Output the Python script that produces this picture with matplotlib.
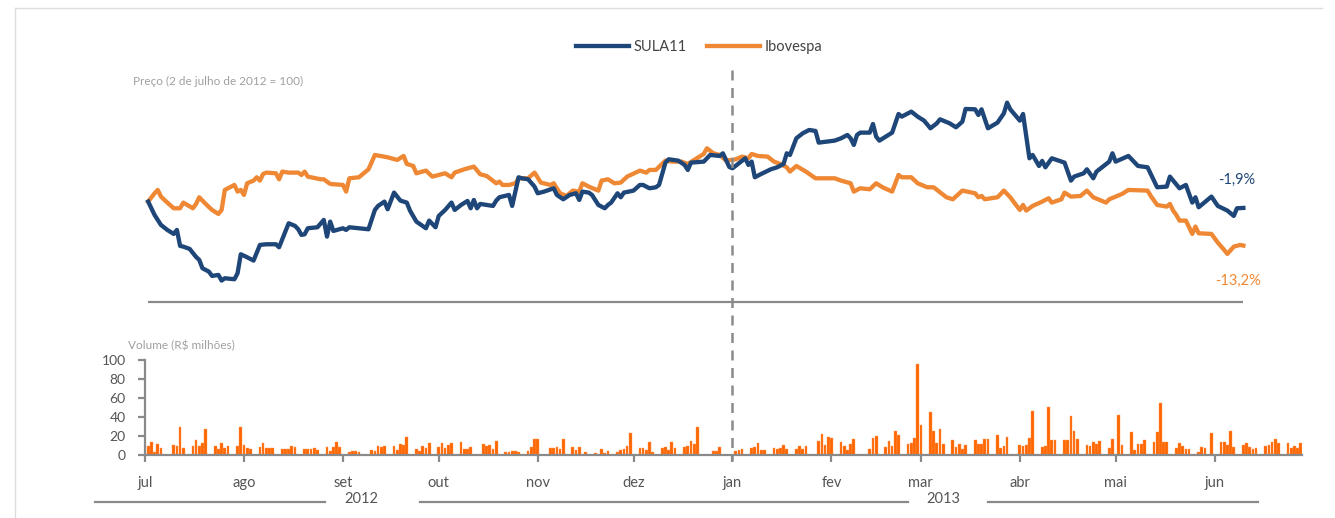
import pandas as pd
import matplotlib
matplotlib.use("Agg")
import matplotlib.pyplot as plt
import matplotlib.dates as mdates
import matplotlib.transforms as mtransforms
from matplotlib.lines import Line2D

plt.rcParams["font.family"] = ["Lato", "DejaVu Sans"]

# Preço (2 de julho de 2012 = 100)
sula11 = [
    ("2012-07-02", 100.0), ("2012-07-04", 96.0), ("2012-07-06", 93.0), ("2012-07-08", 91.5),
    ("2012-07-10", 90.3), ("2012-07-11", 91.5), ("2012-07-12", 86.7), ("2012-07-13", 86.5),
    ("2012-07-15", 85.8), ("2012-07-17", 83.4), ("2012-07-18", 82.5), ("2012-07-19", 80.0),
    ("2012-07-21", 79.0), ("2012-07-22", 77.7), ("2012-07-24", 78.0), ("2012-07-25", 76.3),
    ("2012-07-26", 77.0), ("2012-07-29", 76.7), ("2012-07-30", 78.5), ("2012-07-31", 84.2),
    ("2012-08-02", 83.3), ("2012-08-04", 82.3), ("2012-08-06", 87.0), ("2012-08-08", 87.2),
    ("2012-08-11", 87.2), ("2012-08-12", 86.3), ("2012-08-15", 93.5), ("2012-08-17", 92.7),
    ("2012-08-18", 91.7), ("2012-08-19", 90.0), ("2012-08-20", 90.2), ("2012-08-21", 92.0),
    ("2012-08-24", 92.3), ("2012-08-26", 94.5), ("2012-08-27", 89.5), ("2012-08-28", 94.0),
    ("2012-08-29", 91.2), ("2012-09-01", 92.0), ("2012-09-02", 91.5), ("2012-09-03", 92.3),
    ("2012-09-09", 91.7), ("2012-09-11", 97.5), ("2012-09-12", 98.7), ("2012-09-14", 100.0),
    ("2012-09-15", 97.7), ("2012-09-17", 102.7), ("2012-09-19", 100.3), ("2012-09-21", 99.7),
    ("2012-09-22", 97.3), ("2012-09-24", 94.0), ("2012-09-27", 92.0), ("2012-09-28", 94.3),
    ("2012-09-30", 92.3), ("2012-10-01", 95.7), ("2012-10-03", 97.5), ("2012-10-05", 99.7),
    ("2012-10-06", 97.5), ("2012-10-08", 99.0), ("2012-10-10", 100.2), ("2012-10-11", 98.0),
    ("2012-10-12", 100.5), ("2012-10-13", 98.0), ("2012-10-14", 99.3), ("2012-10-18", 98.7),
    ("2012-10-19", 100.3), ("2012-10-20", 101.3), ("2012-10-23", 102.0), ("2012-10-24", 98.7),
    ("2012-10-26", 107.3), ("2012-10-27", 107.0), ("2012-10-29", 106.7), ("2012-10-31", 104.5),
    ("2012-11-01", 102.5), ("2012-11-03", 103.0), ("2012-11-06", 104.0), ("2012-11-07", 102.0),
    ("2012-11-09", 100.7), ("2012-11-11", 102.0), ("2012-11-13", 102.5), ("2012-11-14", 100.5),
    ("2012-11-15", 103.0), ("2012-11-17", 102.7), ("2012-11-18", 102.0), ("2012-11-20", 99.0),
    ("2012-11-22", 98.0), ("2012-11-23", 99.0), ("2012-11-24", 99.7), ("2012-11-26", 102.5),
    ("2012-11-27", 101.3), ("2012-11-28", 102.7), ("2012-12-01", 103.3), ("2012-12-03", 105.0),
    ("2012-12-04", 105.0), ("2012-12-06", 104.0), ("2012-12-08", 104.3), ("2012-12-09", 105.0),
    ("2012-12-11", 111.7), ("2012-12-12", 112.7), ("2012-12-15", 112.3), ("2012-12-17", 111.0),
    ("2012-12-18", 109.5), ("2012-12-19", 111.7), ("2012-12-23", 112.0), ("2012-12-25", 114.0),
    ("2012-12-28", 113.7), ("2012-12-29", 114.5), ("2012-12-31", 110.4), ("2013-01-01", 110.0),
    ("2013-01-03", 111.5), ("2013-01-05", 113.0), ("2013-01-06", 111.0), ("2013-01-07", 112.0),
    ("2013-01-08", 107.3), ("2013-01-10", 108.3), ("2013-01-13", 109.7), ("2013-01-15", 110.3),
    ("2013-01-17", 111.3), ("2013-01-18", 114.5), ("2013-01-19", 114.0), ("2013-01-21", 119.0),
    ("2013-01-23", 120.5), ("2013-01-25", 121.5), ("2013-01-27", 121.2), ("2013-01-28", 117.7),
    ("2013-02-02", 118.3), ("2013-02-04", 119.0), ("2013-02-06", 120.0), ("2013-02-07", 119.0),
    ("2013-02-08", 117.0), ("2013-02-09", 120.0), ("2013-02-10", 120.7), ("2013-02-13", 120.7),
    ("2013-02-14", 123.3), ("2013-02-15", 119.5), ("2013-02-16", 118.3), ("2013-02-20", 120.7),
    ("2013-02-21", 123.5), ("2013-02-22", 126.3), ("2013-02-23", 125.5), ("2013-02-26", 127.0),
    ("2013-02-28", 125.5), ("2013-03-02", 124.3), ("2013-03-04", 122.0), ("2013-03-06", 123.5),
    ("2013-03-07", 124.7), ("2013-03-10", 123.5), ("2013-03-12", 122.3), ("2013-03-14", 124.0),
    ("2013-03-15", 127.8), ("2013-03-18", 127.7), ("2013-03-19", 126.0), ("2013-03-20", 127.7),
    ("2013-03-22", 122.0), ("2013-03-25", 123.7), ("2013-03-27", 126.5), ("2013-03-28", 129.7),
    ("2013-03-29", 127.7), ("2013-04-01", 124.3), ("2013-04-02", 126.3), ("2013-04-04", 113.0),
    ("2013-04-05", 114.0), ("2013-04-07", 110.7), ("2013-04-08", 112.2), ("2013-04-09", 110.3),
    ("2013-04-11", 113.0), ("2013-04-15", 111.7), ("2013-04-17", 106.3), ("2013-04-18", 107.5),
    ("2013-04-21", 108.5), ("2013-04-22", 109.7), ("2013-04-24", 107.0), ("2013-04-25", 109.0),
    ("2013-04-29", 112.0), ("2013-04-30", 114.5), ("2013-05-01", 112.0), ("2013-05-05", 113.7),
    ("2013-05-08", 110.7), ("2013-05-11", 110.3), ("2013-05-14", 104.3), ("2013-05-17", 104.5),
    ("2013-05-18", 107.5), ("2013-05-21", 104.0), ("2013-05-23", 105.0), ("2013-05-25", 99.7),
    ("2013-05-26", 101.3), ("2013-05-27", 98.3), ("2013-05-31", 101.5), ("2013-06-02", 98.7),
    ("2013-06-05", 97.3), ("2013-06-07", 95.7), ("2013-06-08", 98.0), ("2013-06-10", 98.1),
]

ibovespa = [
    ("2012-07-02", 100.0), ("2012-07-04", 102.5), ("2012-07-05", 103.5), ("2012-07-06", 101.5),
    ("2012-07-08", 99.7), ("2012-07-10", 98.0), ("2012-07-12", 98.0), ("2012-07-13", 99.7),
    ("2012-07-16", 98.0), ("2012-07-17", 99.3), ("2012-07-18", 101.3), ("2012-07-20", 99.3),
    ("2012-07-22", 97.5), ("2012-07-24", 96.3), ("2012-07-25", 97.5), ("2012-07-26", 103.5),
    ("2012-07-29", 105.0), ("2012-07-30", 103.0), ("2012-07-31", 103.5), ("2012-08-01", 102.0),
    ("2012-08-02", 105.5), ("2012-08-04", 106.3), ("2012-08-05", 107.3), ("2012-08-06", 106.3),
    ("2012-08-07", 108.3), ("2012-08-08", 108.7), ("2012-08-11", 108.5), ("2012-08-12", 106.7),
    ("2012-08-13", 109.0), ("2012-08-15", 108.7), ("2012-08-18", 108.7), ("2012-08-19", 108.0),
    ("2012-08-20", 109.0), ("2012-08-21", 107.5), ("2012-08-25", 106.7), ("2012-08-26", 106.7),
    ("2012-08-28", 105.3), ("2012-09-01", 105.0), ("2012-09-02", 103.0), ("2012-09-03", 107.0),
    ("2012-09-06", 107.3), ("2012-09-09", 109.7), ("2012-09-11", 114.0), ("2012-09-15", 113.3),
    ("2012-09-18", 112.5), ("2012-09-20", 113.7), ("2012-09-21", 111.3), ("2012-09-23", 110.7),
    ("2012-09-24", 108.5), ("2012-09-27", 109.3), ("2012-09-29", 107.5), ("2012-10-01", 108.0),
    ("2012-10-03", 108.5), ("2012-10-05", 107.3), ("2012-10-06", 108.7), ("2012-10-09", 109.7),
    ("2012-10-12", 110.5), ("2012-10-14", 108.2), ("2012-10-16", 107.7), ("2012-10-19", 105.5),
    ("2012-10-20", 106.0), ("2012-10-21", 105.0), ("2012-10-23", 105.0), ("2012-10-25", 105.5),
    ("2012-10-26", 107.0), ("2012-10-29", 107.0), ("2012-10-31", 108.7), ("2012-11-02", 105.7),
    ("2012-11-05", 105.0), ("2012-11-06", 105.5), ("2012-11-08", 102.5), ("2012-11-10", 101.7),
    ("2012-11-12", 103.3), ("2012-11-14", 103.0), ("2012-11-15", 105.5), ("2012-11-17", 104.5),
    ("2012-11-20", 103.3), ("2012-11-21", 106.3), ("2012-11-23", 106.7), ("2012-11-25", 105.5),
    ("2012-11-27", 105.7), ("2012-11-29", 107.5), ("2012-12-03", 109.3), ("2012-12-05", 108.7),
    ("2012-12-06", 109.5), ("2012-12-08", 109.5), ("2012-12-11", 112.3), ("2012-12-13", 112.0),
    ("2012-12-16", 112.0), ("2012-12-18", 111.3), ("2012-12-20", 112.5), ("2012-12-23", 114.3),
    ("2012-12-24", 116.0), ("2012-12-26", 114.5), ("2012-12-28", 114.0), ("2012-12-30", 112.3),
    ("2013-01-02", 112.7), ("2013-01-04", 113.5), ("2013-01-06", 113.0), ("2013-01-07", 114.3),
    ("2013-01-09", 113.7), ("2013-01-12", 113.5), ("2013-01-14", 112.0), ("2013-01-16", 111.3),
    ("2013-01-18", 110.3), ("2013-01-19", 109.0), ("2013-01-21", 110.7), ("2013-01-24", 109.0),
    ("2013-01-27", 107.0), ("2013-02-02", 107.0), ("2013-02-04", 106.3), ("2013-02-07", 105.5),
    ("2013-02-08", 103.0), ("2013-02-10", 104.0), ("2013-02-13", 103.7), ("2013-02-15", 105.5),
    ("2013-02-17", 104.3), ("2013-02-20", 103.0), ("2013-02-22", 108.0), ("2013-02-23", 107.3),
    ("2013-02-26", 107.3), ("2013-02-28", 105.5), ("2013-03-03", 104.3), ("2013-03-05", 104.3),
    ("2013-03-09", 101.3), ("2013-03-11", 100.7), ("2013-03-14", 103.3), ("2013-03-18", 102.5),
    ("2013-03-19", 101.3), ("2013-03-20", 101.7), ("2013-03-21", 100.7), ("2013-03-25", 101.3),
    ("2013-03-27", 103.3), ("2013-03-29", 101.3), ("2013-03-30", 100.0), ("2013-04-01", 97.5),
    ("2013-04-02", 99.0), ("2013-04-03", 97.3), ("2013-04-05", 98.7), ("2013-04-08", 100.0),
    ("2013-04-10", 101.0), ("2013-04-11", 99.7), ("2013-04-14", 100.7), ("2013-04-15", 102.7),
    ("2013-04-17", 101.5), ("2013-04-20", 101.7), ("2013-04-22", 103.3), ("2013-04-24", 101.3),
    ("2013-04-28", 99.7), ("2013-04-29", 100.7), ("2013-05-03", 102.3), ("2013-05-05", 103.5),
    ("2013-05-11", 103.3), ("2013-05-12", 101.7), ("2013-05-14", 99.0), ("2013-05-17", 98.5),
    ("2013-05-18", 99.3), ("2013-05-19", 97.3), ("2013-05-20", 96.0), ("2013-05-21", 94.3),
    ("2013-05-23", 94.3), ("2013-05-25", 90.3), ("2013-05-26", 92.5), ("2013-05-27", 90.5),
    ("2013-05-31", 90.3), ("2013-06-02", 87.7), ("2013-06-04", 85.5), ("2013-06-05", 84.3),
    ("2013-06-07", 86.5), ("2013-06-09", 87.0), ("2013-06-10", 86.8),
]

# Volume diário (R$ milhões), dias úteis de 2/jul/2012 a 28/jun/2013 (0 = feriado)
volume = [
    10, 14, 3, 12, 7,   0, 11, 10, 29, 7,   9, 16, 10, 13, 27,   9, 6, 13, 7, 10,
    9, 29, 11, 7, 6,   8, 13, 7, 7, 7,   6, 6, 6, 10, 8,   6, 6, 6, 7, 5,
    8, 4, 8, 14, 8,   3, 4, 4, 3, 0,   5, 4, 10, 8, 9,   9, 5, 12, 11, 19,
    6, 4, 9, 7, 13,   8, 13, 7, 11, 13,   14, 6, 6, 8, 0,   12, 9, 11, 6, 15,
    3, 3, 4, 4, 3,   4, 8, 17, 17, 0,   7, 7, 8, 6, 17,   8, 5, 8, 0, 3,
    2, 0, 6, 2, 4,   3, 5, 6, 10, 23,   7, 7, 5, 14, 3,   7, 8, 5, 14, 7,
    8, 10, 15, 12, 29,   0, 0, 4, 4, 8,   0, 0, 4, 5, 6,   7, 8, 13, 5, 5,
    7, 6, 7, 11, 6,   6, 9, 6, 10, 0,   15, 22, 11, 19, 18,   14, 9, 5, 12, 17,
    0, 0, 6, 18, 20,   8, 15, 9, 25, 21,   12, 13, 18, 96, 32,   45, 25, 13, 27, 12,
    16, 8, 12, 6, 11,   16, 12, 12, 17, 17,   21, 7, 10, 19, 0,   11, 10, 11, 18, 46,
    8, 10, 51, 16, 16,   16, 16, 41, 25, 17,   11, 10, 14, 12, 15,   7, 17, 0, 42, 11,
    24, 5, 12, 12, 16,   14, 24, 55, 14, 14,   7, 13, 10, 6, 6,   3, 8, 7, 0, 23,
    14, 14, 11, 25, 8,   11, 13, 8, 6, 7,   10, 11, 14, 17, 13,   13, 7, 9, 7, 13,
]

month_starts = ["2012-07-01", "2012-08-01", "2012-09-01", "2012-10-01", "2012-11-01", "2012-12-01",
                "2013-01-01", "2013-02-01", "2013-03-01", "2013-04-01", "2013-05-01", "2013-06-01"]
month_labels = ["jul", "ago", "set", "out", "nov", "dez", "jan", "fev", "mar", "abr", "mai", "jun"]
end_labels = ["-1,9%", "-13,2%"]

blue = "#1f4678"
orange = "#ef8834"
bar_color = "#ff6600"
grey = "#8a8a8a"

sula_d = pd.to_datetime([d for d, v in sula11])
sula_v = [v for d, v in sula11]
ibov_d = pd.to_datetime([d for d, v in ibovespa])
ibov_v = [v for d, v in ibovespa]
vol_d = pd.bdate_range("2012-07-02", "2013-06-28")
ticks = pd.to_datetime(month_starts)

xmin = pd.Timestamp("2012-07-01")
xmax = pd.Timestamp("2013-06-28 12:00")

fig = plt.figure(figsize=(13.35, 5.18), dpi=100)
ax = fig.add_axes([0.1086, 0.4178, 0.8670, 0.4471])
axv = fig.add_axes([0.1086, 0.1216, 0.8670, 0.1834])

# --- preço ---
l1, = ax.plot(sula_d, sula_v, color=blue, lw=3.1, solid_joinstyle="round", label="SULA11", zorder=3)
l2, = ax.plot(ibov_d, ibov_v, color=orange, lw=3.1, solid_joinstyle="round", label="Ibovespa", zorder=2)
ax.hlines(70, sula_d[0], sula_d[-1], color=grey, lw=1.6, clip_on=False)
ax.set_xlim(xmin, xmax)
ax.set_ylim(70, 139.5)
ax.axis("off")

ax.annotate(end_labels[0], (sula_d[-1], sula_v[-1]), xytext=(-7, 28), textcoords="offset pixels",
            ha="center", va="center", color=blue, fontsize=10.5)
ax.annotate(end_labels[1], (ibov_d[-1], ibov_v[-1]), xytext=(-5, -35), textcoords="offset pixels",
            ha="center", va="center", color=orange, fontsize=10.5)

fig.text(133 / 1335, 1 - 81 / 518, "Preço (2 de julho de 2012 = 100)", color="#a0a0a0",
         fontsize=8.5, ha="left", va="center")

fig.legend(handles=[l1, l2], loc="center", bbox_to_anchor=(0.524, 1 - 47 / 518), ncol=2,
           frameon=False, fontsize=10.5, handlelength=3.6, handletextpad=0.35,
           columnspacing=1.4, labelcolor="#444444")

# --- volume ---
axv.bar(vol_d, volume, width=0.85, color=bar_color, edgecolor="#ff9a5a", linewidth=0.3, zorder=2)
axv.set_xlim(xmin, xmax)
axv.set_ylim(0, 100)
axv.set_yticks(range(0, 101, 20))
axv.set_xticks(ticks)
axv.set_xticklabels(month_labels)
for s in ["top", "right"]:
    axv.spines[s].set_visible(False)
for s in ["left", "bottom"]:
    axv.spines[s].set_color(grey)
    axv.spines[s].set_linewidth(1.6)
axv.tick_params(axis="y", colors=grey, labelcolor="#555555", labelsize=10, length=5, width=1.6, pad=9)
axv.tick_params(axis="x", colors=grey, labelcolor="#555555", labelsize=10.5, length=5, width=1.6, pad=10)
fig.text(128 / 1335, 1 - 346 / 518, "Volume (R$ milhões)", color="#a0a0a0",
         fontsize=8.5, ha="left", va="center")

# linha tracejada da virada do ano
trans = mtransforms.blended_transform_factory(ax.transData, fig.transFigure)
jan = mdates.date2num(pd.Timestamp("2013-01-01"))
fig.add_artist(Line2D([jan, jan], [1 - 70 / 518, 1 - 461 / 518], transform=trans,
                      color=grey, lw=1.8, ls=(0, (4, 3))))

# anos
fig.text(361 / 1335, 1 - 499 / 518, "2012", color="#555555", fontsize=10.5, ha="center", va="center")
fig.text(943 / 1335, 1 - 499 / 518, "2013", color="#555555", fontsize=10.5, ha="center", va="center")
yl = 1 - 502 / 518
for x0, x1 in [(95, 325), (420, 908), (988, 1258)]:
    fig.add_artist(Line2D([x0 / 1335, x1 / 1335], [yl, yl], transform=fig.transFigure,
                          color=grey, lw=1.6))

# moldura clara
fig.add_artist(Line2D([15 / 1335, 1322 / 1335], [1 - 8 / 518, 1 - 8 / 518], transform=fig.transFigure,
                      color="#dddddd", lw=1))
fig.add_artist(Line2D([15 / 1335, 15 / 1335], [0, 1 - 8 / 518], transform=fig.transFigure,
                      color="#dddddd", lw=1))

fig.savefig("out.png", dpi=100)
